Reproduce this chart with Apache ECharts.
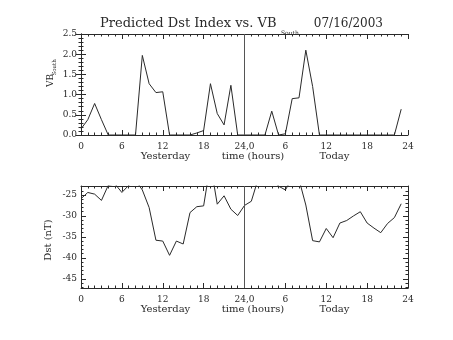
<!DOCTYPE html>
<html>
<head>
<meta charset="utf-8">
<script src="https://cdn.jsdelivr.net/npm/echarts@6/dist/echarts.min.js"></script>
<style>html,body{margin:0;padding:0;background:#fff}#c{width:453px;height:340px}</style>
</head>
<body>
<div id="c"></div>
<script>
// Hours 0..47 (0-23 = yesterday, 24-47 = today)
var hours = [];
for (var i = 0; i < 48; i++) hours.push(i);

var vbSouth = [
  0.15, 0.38, 0.78, 0.38, 0, 0, 0, 0, 0, 1.97, 1.27, 1.05,
  1.07, 0, 0, 0, 0, 0.05, 0.11, 1.27, 0.53, 0.25, 1.23, 0,
  0, 0, 0, 0, 0.59, 0, 0.03, 0.90, 0.92, 2.10, 1.20, 0,
  0, 0, 0, 0, 0, 0, 0, 0, 0, 0, 0, 0.64
];

var dst = [
  -25.9, -24.4, -24.8, -26.3, -22.7, -22.4, -24.4, -22.7, -21.5, -23.8, -28.0, -35.8,
  -36.0, -39.4, -36.0, -36.7, -29.2, -27.8, -27.6, -17.5, -27.2, -25.2, -28.4, -29.9,
  -27.5, -26.5, -21.2, -20.5, -21.0, -22.9, -23.8, -21.0, -21.3, -27.4, -35.9, -36.2,
  -33.0, -35.2, -31.7, -31.1, -30.0, -29.0, -31.7, -32.9, -34.0, -31.8, -30.4, -27.1
];

var xTickLabels = ['0', '6', '12', '18', '24,0', '6', '12', '18', '24'];
var dstMajorTicks = [-45, -40, -35, -30, -25];
var dstMinorTicks = [-47, -46, -44, -43, -42, -41, -39, -38, -37, -36, -34, -33, -32, -31, -29, -28, -27, -26, -24, -23];
var titleMain = 'Predicted Dst Index vs. VB';
var titleSub = 'South';
var titleDate = '07/16/2003';

var INK = '#2a2a2a';
var FONT = 'DejaVu Serif';

function pairs(vals) {
  return hours.map(function (h, i) { return [h, vals[i]]; });
}

function xAxisCfg(grid, pos, labels) {
  return {
    type: 'value', gridIndex: grid, position: pos, min: 0, max: 48, interval: 6,
    axisLine: { show: true, onZero: false, lineStyle: { color: INK, width: 1 } },
    axisTick: { show: true, inside: true, length: 5, lineStyle: { color: INK } },
    minorTick: { show: true, splitNumber: 6, length: 2.5, lineStyle: { color: INK } },
    axisLabel: labels ? {
      show: true, margin: 7, color: INK, fontFamily: FONT, fontSize: 9,
      formatter: function (v) { return xTickLabels[Math.round(v / 6)]; }
    } : { show: false },
    splitLine: { show: false }
  };
}

var option = {
  animation: false,
  backgroundColor: '#fff',
  grid: [
    { left: 81, top: 34, width: 327, height: 101 },
    { left: 81, top: 186, width: 327, height: 102 }
  ],
  xAxis: [
    xAxisCfg(0, 'bottom', true),
    xAxisCfg(0, 'top', false),
    xAxisCfg(1, 'bottom', true),
    xAxisCfg(1, 'top', false)
  ],
  yAxis: [
    {
      type: 'value', gridIndex: 0, position: 'left', min: 0, max: 2.5, interval: 0.5,
      axisLine: { show: true, lineStyle: { color: INK } },
      axisTick: { show: true, inside: true, length: 5, lineStyle: { color: INK } },
      minorTick: { show: true, splitNumber: 5, length: 2.5, lineStyle: { color: INK } },
      axisLabel: { margin: 4, color: INK, fontFamily: FONT, fontSize: 9, formatter: function (v) { return v.toFixed(1); } },
      splitLine: { show: false }
    },
    {
      type: 'value', gridIndex: 0, position: 'right', min: 0, max: 2.5, interval: 0.5,
      axisLine: { show: true, lineStyle: { color: INK } },
      axisTick: { show: true, inside: true, length: 5, lineStyle: { color: INK } },
      minorTick: { show: true, splitNumber: 5, length: 2.5, lineStyle: { color: INK } },
      axisLabel: { show: false },
      splitLine: { show: false }
    },
    {
      type: 'value', gridIndex: 1, position: 'left', min: -47.2, max: -22.86,
      axisLine: { show: true, lineStyle: { color: INK } },
      axisTick: { show: true, inside: true, length: 5, customValues: dstMajorTicks, lineStyle: { color: INK } },
      axisLabel: { margin: 4, color: INK, fontFamily: FONT, fontSize: 9, customValues: dstMajorTicks },
      splitLine: { show: false }
    },
    {
      type: 'value', gridIndex: 1, position: 'left', min: -47.2, max: -22.86,
      axisLine: { show: false },
      axisTick: { show: true, inside: true, length: 2.5, customValues: dstMinorTicks, lineStyle: { color: INK } },
      axisLabel: { show: false },
      splitLine: { show: false }
    },
    {
      type: 'value', gridIndex: 1, position: 'right', min: -47.2, max: -22.86,
      axisLine: { show: true, lineStyle: { color: INK } },
      axisTick: { show: true, inside: true, length: 5, customValues: dstMajorTicks, lineStyle: { color: INK } },
      axisLabel: { show: false },
      splitLine: { show: false }
    },
    {
      type: 'value', gridIndex: 1, position: 'right', min: -47.2, max: -22.86,
      axisLine: { show: false },
      axisTick: { show: true, inside: true, length: 2.5, customValues: dstMinorTicks, lineStyle: { color: INK } },
      axisLabel: { show: false },
      splitLine: { show: false }
    }
  ],
  series: [
    {
      type: 'line', xAxisIndex: 0, yAxisIndex: 0, data: pairs(vbSouth),
      showSymbol: false, symbol: 'none', clip: true,
      lineStyle: { color: INK, width: 1 },
      markLine: {
        silent: true, symbol: 'none', label: { show: false },
        lineStyle: { color: '#555', width: 1, type: 'solid' },
        data: [{ xAxis: 24 }]
      }
    },
    {
      type: 'line', xAxisIndex: 2, yAxisIndex: 2, data: pairs(dst),
      showSymbol: false, symbol: 'none', clip: true,
      lineStyle: { color: INK, width: 1 },
      markLine: {
        silent: true, symbol: 'none', label: { show: false },
        lineStyle: { color: '#555', width: 1, type: 'solid' },
        data: [{ xAxis: 24 }]
      }
    }
  ],
  graphic: [
    { type: 'text', x: 100, y: 23.5, style: { text: titleMain, fill: INK, font: '13px "DejaVu Serif"', align: 'left', verticalAlign: 'middle' } },
    { type: 'text', x: 281, y: 33.8, style: { text: titleSub, fill: INK, font: '6px "DejaVu Serif"', align: 'left', verticalAlign: 'middle' } },
    { type: 'text', x: 383, y: 23.5, style: { text: titleDate, fill: INK, font: '12px "DejaVu Serif"', align: 'right', verticalAlign: 'middle' } },
    { type: 'group', x: 50.5, y: 87, rotation: Math.PI / 2, children: [
      { type: 'text', x: 0, y: 0, style: { text: 'VB', fill: INK, font: '9px "DejaVu Serif"', align: 'left', verticalAlign: 'middle' } },
      { type: 'text', x: 11.5, y: 4.5, style: { text: 'South', fill: INK, font: '5.5px "DejaVu Serif"', align: 'left', verticalAlign: 'middle' } }
    ] },
    { type: 'text', x: 48, y: 240, rotation: Math.PI / 2, style: { text: 'Dst (nT)', fill: INK, font: '10px "DejaVu Serif"', align: 'center', verticalAlign: 'middle' } },
    { type: 'text', x: 165.5, y: 156.5, style: { text: 'Yesterday', fill: INK, font: '10px "DejaVu Serif"', align: 'center', verticalAlign: 'middle' } },
    { type: 'text', x: 253, y: 156.5, style: { text: 'time (hours)', fill: INK, font: '10px "DejaVu Serif"', align: 'center', verticalAlign: 'middle' } },
    { type: 'text', x: 334.5, y: 156.5, style: { text: 'Today', fill: INK, font: '10px "DejaVu Serif"', align: 'center', verticalAlign: 'middle' } },
    { type: 'text', x: 165.5, y: 309.5, style: { text: 'Yesterday', fill: INK, font: '10px "DejaVu Serif"', align: 'center', verticalAlign: 'middle' } },
    { type: 'text', x: 253, y: 309.5, style: { text: 'time (hours)', fill: INK, font: '10px "DejaVu Serif"', align: 'center', verticalAlign: 'middle' } },
    { type: 'text', x: 334.5, y: 309.5, style: { text: 'Today', fill: INK, font: '10px "DejaVu Serif"', align: 'center', verticalAlign: 'middle' } }
  ]
};

var chart = echarts.init(document.getElementById('c'), null, { renderer: 'canvas' });
chart.setOption(option);
</script>
</body>
</html>
